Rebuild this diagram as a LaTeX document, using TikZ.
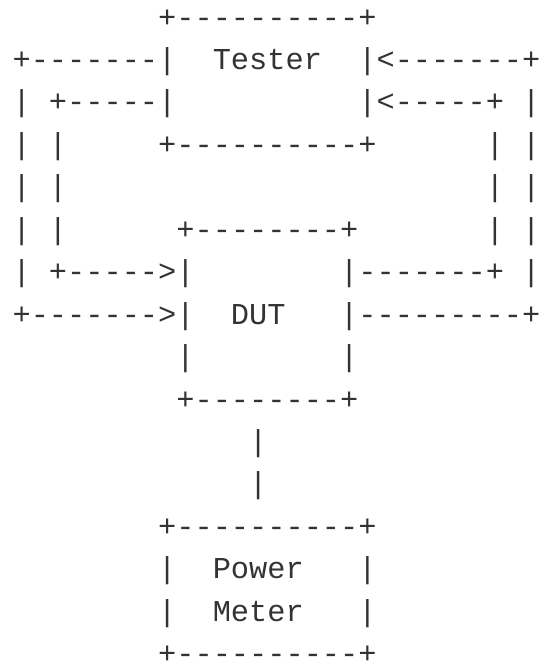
\documentclass[tikz,border=0pt]{standalone}
\usepackage{fontspec}
\setmonofont{Liberation Mono}
\definecolor{ink}{HTML}{333333}
\tikzset{
  asc/.style={inner sep=0pt, outer sep=0pt, anchor=base west, text=ink,
    text depth=0pt, font=\ttfamily\fontsize{30.33}{36}\selectfont},
}
\newcommand{\cx}[1]{12.6+18.2*#1}
\newcommand{\ry}[1]{27+42.45*#1}
\begin{document}
\begin{tikzpicture}[x=1pt,y=-1pt]
\useasboundingbox (0,0) rectangle (543,664);
\node[asc] (r0)  at ({\cx{8}},{\ry{0}})  {+----------+};
\node[asc] (r1)  at ({\cx{0}},{\ry{1}})  {+-------|~~Tester~~|<-------+};
\node[asc] (r2)  at ({\cx{0}},{\ry{2}})  {|~+-----|~~~~~~~~~~|<-----+~|};
\node[asc] (r3)  at ({\cx{0}},{\ry{3}})  {|~|~~~~~+----------+~~~~~~|~|};
\node[asc] (r4)  at ({\cx{0}},{\ry{4}})  {|~|~~~~~~~~~~~~~~~~~~~~~~~|~|};
\node[asc] (r5)  at ({\cx{0}},{\ry{5}})  {|~|~~~~~~+--------+~~~~~~~|~|};
\node[asc] (r6)  at ({\cx{0}},{\ry{6}})  {|~+----->|~~~~~~~~|-------+~|};
\node[asc] (r7)  at ({\cx{0}},{\ry{7}})  {+------->|~~DUT~~~|---------+};
\node[asc] (r8)  at ({\cx{9}},{\ry{8}})  {|~~~~~~~~|};
\node[asc] (r9)  at ({\cx{9}},{\ry{9}})  {+--------+};
\node[asc] (r10) at ({\cx{13}},{\ry{10}}) {|};
\node[asc] (r11) at ({\cx{13}},{\ry{11}}) {|};
\node[asc] (r12) at ({\cx{8}},{\ry{12}}) {+----------+};
\node[asc] (r13) at ({\cx{8}},{\ry{13}}) {|~~Power~~~|};
\node[asc] (r14) at ({\cx{8}},{\ry{14}}) {|~~Meter~~~|};
\node[asc] (r15) at ({\cx{8}},{\ry{15}}) {+----------+};
\end{tikzpicture}
\end{document}
